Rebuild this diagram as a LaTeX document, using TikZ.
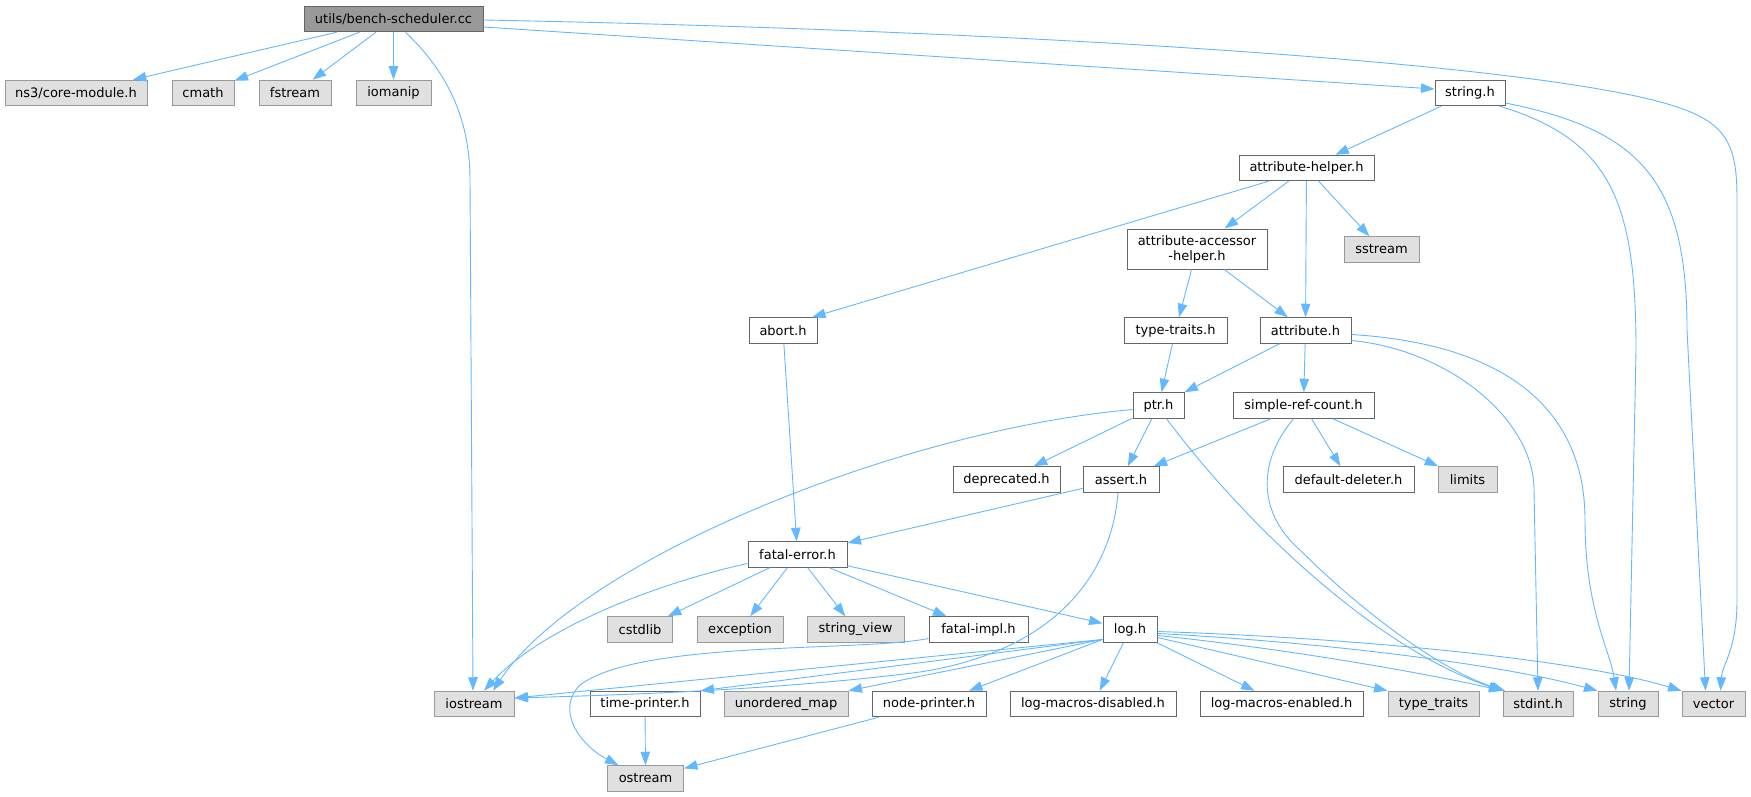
\documentclass[tikz,border=0pt]{standalone}
\usepackage{fontspec}
\setmainfont{DejaVu Sans}
\usetikzlibrary{arrows.meta}
\definecolor{edgeblue}{HTML}{63B8FF}
\definecolor{boxdark}{HTML}{666666}
\definecolor{boxlight}{HTML}{999999}
\definecolor{sysfill}{HTML}{E0E0E0}
\begin{document}
\begin{tikzpicture}[x=1pt,y=-1pt,
    box/.style={draw, line width=1pt, inner sep=0pt, minimum height=25.5pt, text=black, font=\fontsize{13}{15}\selectfont},
    file/.style={box, draw=boxdark, fill=white},
    sysfile/.style={box, draw=boxlight, fill=sysfill},
    rootfile/.style={box, draw=boxdark, fill=boxlight},
    dep/.style={draw=edgeblue, line width=0.9pt, -{Triangle[length=13.5pt,width=9.5pt]}}]
    \useasboundingbox (0,0) rectangle (1751,797);

\node[rootfile, minimum width=179pt] (bench) at (393.5,19) {utils/bench-scheduler.cc};

\node[sysfile, minimum width=142pt] (core) at (76,93) {ns3/core-module.h};
\node[sysfile, minimum width=62pt] (cmath) at (203,93) {cmath};
\node[sysfile, minimum width=72pt] (fstream) at (295,93) {fstream};
\node[sysfile, minimum width=75pt] (iomanip) at (393.5,93) {iomanip};
\node[file, minimum width=70pt] (stringh) at (1470,93) {string.h};

\node[file, minimum width=135pt] (athelper) at (1306.5,168) {attribute-helper.h};

\node[file, minimum width=140pt, minimum height=40pt, align=center] (accessor) at (1197,249) {attribute-accessor\\-helper.h};
\node[sysfile, minimum width=75pt] (sstream) at (1381.5,249.5) {sstream};

\node[file, minimum width=68pt] (abort) at (783,330.5) {abort.h};
\node[file, minimum width=103pt] (typetraits) at (1175.5,330.5) {type-traits.h};
\node[file, minimum width=91pt] (attribute) at (1305.5,330.5) {attribute.h};

\node[file, minimum width=51pt] (ptr) at (1158.5,405.5) {ptr.h};
\node[file, minimum width=141pt] (simpleref) at (1303.5,405.5) {simple-ref-count.h};

\node[file, minimum width=107pt] (deprecated) at (1006.5,479.5) {deprecated.h};
\node[file, minimum width=76pt] (assert) at (1121,479.5) {assert.h};
\node[file, minimum width=131pt] (deleter) at (1348.5,479.5) {default-deleter.h};
\node[sysfile, minimum width=59pt] (limits) at (1467.5,479.5) {limits};

\node[file, minimum width=99pt] (fatalerror) at (797.5,554.5) {fatal-error.h};

\node[sysfile, minimum width=65pt] (cstdlib) at (640,629.5) {cstdlib};
\node[sysfile, minimum width=86pt] (exception) at (740,629.5) {exception};
\node[sysfile, minimum width=97pt] (stringview) at (855.5,629.5) {string\_view};
\node[file, minimum width=99pt] (fatalimpl) at (978.5,629.5) {fatal-impl.h};
\node[file, minimum width=54pt] (logh) at (1130,629.5) {log.h};

\node[sysfile, minimum width=80pt] (iostream) at (474,704) {iostream};
\node[file, minimum width=110pt] (timeprinter) at (645,704) {time-printer.h};
\node[sysfile, minimum width=124pt] (unorderedmap) at (786,704) {unordered\_map};
\node[file, minimum width=114pt] (nodeprinter) at (929,704) {node-printer.h};
\node[file, minimum width=166pt] (lmdisabled) at (1093,704) {log-macros-disabled.h};
\node[file, minimum width=163pt] (lmenabled) at (1281.5,704) {log-macros-enabled.h};
\node[sysfile, minimum width=91pt] (typetraitsstd) at (1433.5,704) {type\_traits};
\node[sysfile, minimum width=70pt] (stdint) at (1538,704) {stdint.h};
\node[sysfile, minimum width=60pt] (stringstd) at (1628,704) {string};
\node[sysfile, minimum width=63pt] (vector) at (1713.5,704) {vector};

\node[sysfile, minimum width=76pt] (ostream) at (645.5,778.5) {ostream};

% bench-scheduler.cc
\draw[dep] (bench) -- (core);
\draw[dep] (bench) -- (cmath);
\draw[dep] (bench) -- (fstream);
\draw[dep] (bench) -- (iomanip);
\draw[dep] ([xshift=12pt]bench.south) .. controls (440,65) and (470,110) .. (470,180) -- ([xshift=-1pt]iostream.north);
\draw[dep] ([yshift=-8pt]bench.east) -- ([yshift=4pt]stringh.west);
\draw[dep] ([yshift=-1pt]bench.east) .. controls (1000,30) and (1550,62) .. (1680,108) .. controls (1730,125) and (1737,150) .. (1737,200) -- (1737,600) .. controls (1737,650) and (1722,665) .. ([xshift=7pt]vector.north);

% string.h
\draw[dep] (stringh) -- (athelper);
\draw[dep] ([xshift=30pt]stringh.south) .. controls (1610,140) and (1636,200) .. (1636,350) -- ([xshift=1pt]stringstd.north);
\draw[dep] ([yshift=-10pt]stringh.east) .. controls (1640,130) and (1687,180) .. (1687,330) -- ([xshift=-8pt]vector.north);

% attribute-helper.h
\draw[dep] ([xshift=-38pt]athelper.south) -- ([xshift=29pt]abort.north);
\draw[dep] (athelper) -- (accessor);
\draw[dep] (athelper) -- (attribute);
\draw[dep] (athelper) -- (sstream);

\draw[dep] (accessor) -- (typetraits);
\draw[dep] (accessor) -- (attribute);
\draw[dep] (typetraits) -- (ptr);

% attribute.h
\draw[dep] (attribute) -- (ptr);
\draw[dep] (attribute) -- (simpleref);
\draw[dep] ([yshift=-10pt]attribute.east) .. controls (1450,350) and (1534,420) .. (1534,490) -- (stdint.north);
\draw[dep] ([yshift=-4pt]attribute.east) .. controls (1520,345) and (1585,420) .. (1585,520) .. controls (1585,610) and (1610,650) .. ([xshift=-12pt]stringstd.north);

\draw[dep] (abort) -- (fatalerror);

% ptr.h
\draw[dep] ([yshift=-4pt]ptr.west) .. controls (900,430) and (580,560) .. ([xshift=19pt]iostream.north);
\draw[dep] (ptr) -- (deprecated);
\draw[dep] (ptr) -- (assert);
\draw[dep] ([xshift=8pt]ptr.south) .. controls (1250,530) and (1380,650) .. (stdint.north west);

% simple-ref-count.h
\draw[dep] (simpleref) -- (assert);
\draw[dep] (simpleref) -- (deleter);
\draw[dep] (simpleref) -- (limits);
\draw[dep] ([xshift=-10pt]simpleref.south) .. controls (1255,465) and (1260,515) .. (1300,550) .. controls (1360,610) and (1440,670) .. ([xshift=-33pt]stdint.north);

% assert.h
\draw[dep] (assert) -- (fatalerror);
\draw[dep] ([xshift=-3pt]assert.south) .. controls (1112,570) and (1060,650) .. (920,672) .. controls (780,690) and (620,695) .. ([yshift=6pt]iostream.east);

% fatal-error.h
\draw[dep] ([yshift=-9pt]fatalerror.west) .. controls (650,585) and (540,630) .. ([xshift=10pt]iostream.north);
\draw[dep] (fatalerror) -- (cstdlib);
\draw[dep] (fatalerror) -- (exception);
\draw[dep] (fatalerror) -- (stringview);
\draw[dep] (fatalerror) -- (fatalimpl);
\draw[dep] (fatalerror) -- (logh);

\draw[dep] ([yshift=-9pt]fatalimpl.west) .. controls (860,652) and (640,640) .. (580,685) .. controls (555,710) and (580,745) .. ([xshift=-27pt]ostream.north);

% log.h
\draw[dep] ([yshift=-10pt]logh.west) -- ([yshift=6pt]iostream.east);
\draw[dep] ([yshift=-10pt]logh.west) -- (timeprinter.north east);
\draw[dep] ([yshift=-10pt]logh.west) -- (unorderedmap.north east);
\draw[dep] ([yshift=-10pt]logh.west) -- ([xshift=40pt]nodeprinter.north);
\draw[dep] (logh) -- (lmdisabled);
\draw[dep] (logh) -- (lmenabled);
\draw[dep] ([yshift=-8pt]logh.east) -- (typetraitsstd.north west);
\draw[dep] ([yshift=-6pt]logh.east) .. controls (1280,648) and (1420,672) .. (stdint.north west);
\draw[dep] ([yshift=-4pt]logh.east) .. controls (1320,642) and (1500,664) .. (stringstd.north west);
\draw[dep] ([yshift=-2pt]logh.east) .. controls (1360,638) and (1580,660) .. (vector.north west);

\draw[dep] (timeprinter) -- (ostream);
\draw[dep] (nodeprinter) -- (ostream);

\end{tikzpicture}
\end{document}
